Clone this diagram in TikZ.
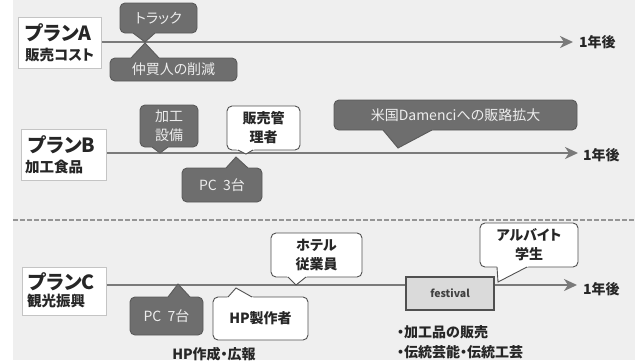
\documentclass[tikz,border=0pt]{standalone}
\usepackage{fontspec}
\setmainfont[RawFeature=+palt]{Noto Sans CJK JP}
\usetikzlibrary{arrows.meta,calc}
\definecolor{bg}{HTML}{EFEFEF}
\definecolor{dkf}{HTML}{6E6E6E}
\definecolor{dkb}{HTML}{5A5A5A}
\definecolor{wtb}{HTML}{505050}
\definecolor{lblb}{HTML}{C4C4C4}
\definecolor{lineg}{HTML}{7A7A7A}
\definecolor{festf}{HTML}{DADADA}
\newcommand\callptr[5]{%
  \fill[#1] ($(#3)!-0.25!(#5)$) -- (#5) -- ($(#4)!-0.25!(#5)$) -- cycle;
  \draw[#2, line width=0.9pt, line join=miter] (#3) -- (#5) -- (#4);
}
\newcommand\fs[2]{\fontsize{#1}{#2}\selectfont}
\begin{document}
\begin{tikzpicture}[x=1pt,y=-1pt,
  lbl/.style={draw=lblb, fill=white, line width=1pt, inner sep=0pt},
  ttl/.style={anchor=west, inner sep=0pt, font=\fs{19.5}{21}\bfseries, text=black!85},
  sub/.style={anchor=west, inner sep=0pt, font=\fs{14.5}{17}\bfseries, text=black!85},
  dk/.style={draw=dkb, fill=dkf, line width=0.9pt, rounded corners=5pt, text=white!93!black, inner sep=0pt, align=center, font=\fs{14}{19}},
  wt/.style={draw=wtb, fill=white, line width=0.9pt, rounded corners=5pt, text=black!85, inner sep=0pt, align=center, font=\fs{14}{19}\bfseries},
  tl/.style={draw=lineg, line width=2.6pt, -{Stealth[length=13pt,width=12pt,inset=4pt]}},
  yr/.style={anchor=west, inner sep=0pt, font=\fs{14}{16}\bfseries, text=black!85},
  txt/.style={inner sep=0pt, font=\fs{14}{16}\bfseries, text=black!85}]
\clip (0,0) rectangle (635,360);
\useasboundingbox (0,0) rectangle (635,360);
\fill[white] (0,0) rectangle (635,360);
\fill[bg] (13,0) rectangle (635,360);
% separator
\draw[lineg!80, line width=1.3pt, dash pattern=on 5pt off 2pt] (13,220) -- (635,220);

% ---------- Plan A ----------
\node[lbl, minimum width=83pt, minimum height=51pt] (la) at (59.5,42.5) {};
\node[ttl] (lat) at (25,33) {プランA};
\node[sub] (las) at (25,55) {販売コスト};
\coordinate (ea) at (573,42);
\draw[tl] (la.east |- ea) -- (ea);
\node[yr] (ya) at (579,42) {1年後};

\node[dk, minimum width=77pt, minimum height=30pt] (truck) at (158.5,18) {トラック};
\callptr{dkf}{dkb}{133,33}{155,33}{145,42}
\node[dk, minimum width=127pt, minimum height=23pt] (naka) at (173.5,69.5) {仲買人の削減};
\callptr{dkf}{dkb}{131,58}{159,58}{145,43}

% ---------- Plan B ----------
\node[lbl, minimum width=85pt, minimum height=51pt] (lb) at (64,155) {};
\node[ttl] (lbt) at (28,145) {プランB};
\node[sub] (lbs) at (25,167) {加工食品};
\coordinate (eb) at (578,153);
\draw[tl] (lb.east |- eb) -- (eb);
\node[yr] (yb) at (583,155) {1年後};

\node[dk, minimum width=58pt, minimum height=42pt] (kakou) at (169,126) {加工\\設備};
\callptr{dkf}{dkb}{152,147}{168,147}{160,153}
\node[wt, minimum width=73pt, minimum height=44pt] (hanbai) at (263.5,128) {販売管\\理者};
\callptr{white}{wtb}{238,150}{253,150}{246,154}
\node[dk, minimum width=80pt, minimum height=34pt] (pc3) at (222,185) {PC\ \ 3台};
\callptr{dkf}{dkb}{226,168}{248,168}{236,157}
\node[dk, minimum width=243pt, minimum height=30pt] (bei) at (455.5,115) {米国Damenciへの販路拡大};
\callptr{dkf}{dkb}{383,130}{432,130}{398,148}

% ---------- Plan C ----------
\node[lbl, minimum width=84pt, minimum height=48pt] (lc) at (64,291) {};
\node[ttl] (lct) at (28,282) {プランC};
\node[sub] (lcs) at (27,301) {観光振興};
\coordinate (ec) at (577,285);
\draw[tl] (lc.east |- ec) -- (ec);
\node[yr] (yc) at (583,289) {1年後};

\node[dk, minimum width=73pt, minimum height=38pt] (pc7) at (166.5,316) {PC\ \ 7台};
\callptr{dkf}{dkb}{168,297}{190,297}{178,284}
\node[wt, minimum width=95pt, minimum height=43pt] (hp) at (260.5,318.5) {HP製作者};
\callptr{white}{wtb}{228,297}{252,297}{236,288}
\node[wt, minimum width=91pt, minimum height=44pt] (hotel) at (316.5,255) {ホテル\\従業員};
\callptr{white}{wtb}{288,277}{306,277}{296,285}
\node[draw=wtb, fill=festf, line width=1.2pt, minimum width=88pt, minimum height=33pt, inner sep=0pt, font=\fs{10.5}{12}\bfseries, text=black!75] (fest) at (450,293.5) {festival};
\node[wt, minimum width=98pt, minimum height=44pt] (arb) at (529,245) {アルバイト\\学生};
\callptr{white}{wtb}{497,267}{527,267}{498,282}

\node[txt] (hpk) at (214,354) {HP作成・広報};
\node[txt, anchor=west] (b1) at (397,332) {・加工品の販売};
\node[txt, anchor=west] (b2) at (397,352) {・伝統芸能・伝統工芸};
\end{tikzpicture}
\end{document}
